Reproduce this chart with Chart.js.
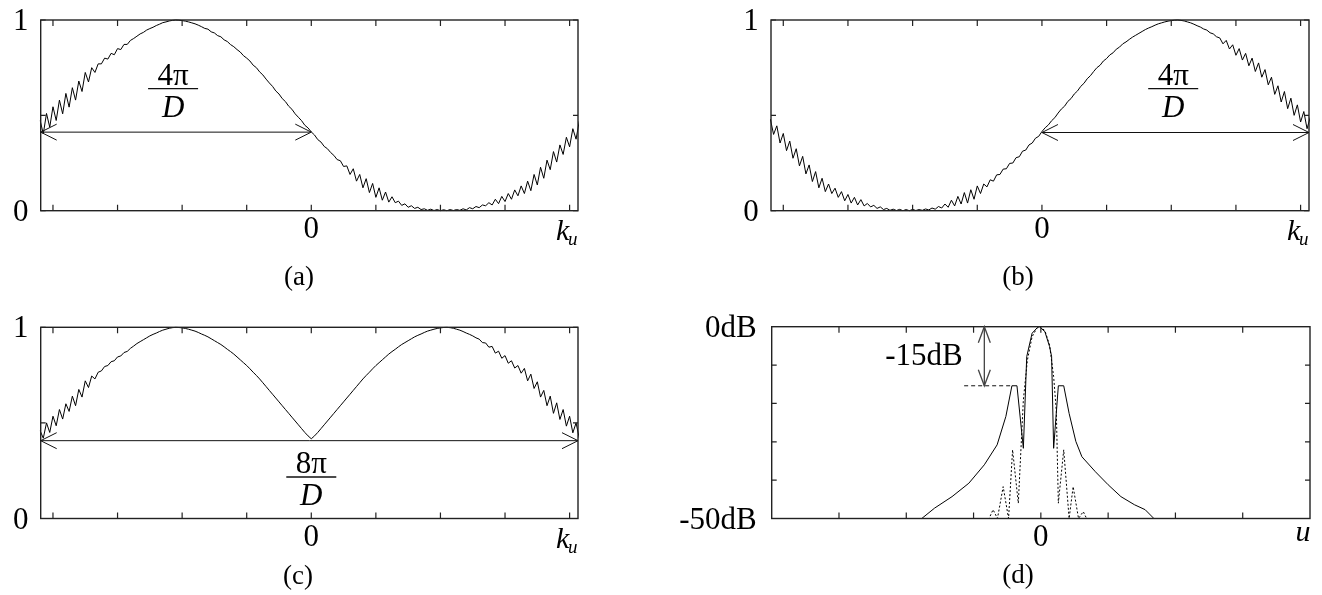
<!DOCTYPE html>
<html>
<head>
<meta charset="utf-8">
<script src="https://cdn.jsdelivr.net/npm/chart.js@4.4.0/dist/chart.umd.min.js"></script>
<style>
html, body { margin: 0; padding: 0; background: #fff; }
#wrap { position: relative; width: 1322px; height: 595px; }
#wrap canvas { position: absolute; left: 0; top: 0; }
</style>
</head>
<body>
<div id="wrap">
  <canvas id="pa" width="1322" height="595"></canvas>
  <canvas id="pb" width="1322" height="595"></canvas>
  <canvas id="pc" width="1322" height="595"></canvas>
  <canvas id="pd" width="1322" height="595"></canvas>
</div>
<script>
// ---- данные ----
// отсчёты k_u для (a), (b), (c): от -4.20 с шагом 0.05
const K_START = -4.2;
const K_STEP = 0.05;

const curveA = [
  0.475, 0.403, 0.51, 0.438, 0.545, 0.473, 0.58, 0.508, 0.615, 0.543,
  0.645, 0.58, 0.68, 0.625, 0.725, 0.675, 0.75, 0.725, 0.77, 0.77,
  0.80, 0.795, 0.825, 0.818, 0.85, 0.845, 0.872, 0.872, 0.893, 0.903,
  0.915, 0.927, 0.935, 0.947, 0.955, 0.962, 0.971, 0.978, 0.986, 0.99,
  0.995, 0.998, 1.0, 0.999, 0.997, 0.994, 0.99, 0.985, 0.98, 0.973,
  0.965, 0.956, 0.952, 0.938, 0.932, 0.918, 0.912, 0.896, 0.887, 0.871,
  0.86, 0.845, 0.832, 0.813, 0.80, 0.785, 0.763, 0.75, 0.728, 0.712,
  0.69, 0.67, 0.652, 0.628, 0.612, 0.588, 0.572, 0.548, 0.532, 0.508,
  0.49, 0.472, 0.448, 0.434, 0.413, 0.397, 0.373, 0.36, 0.337, 0.325,
  0.305, 0.29, 0.268, 0.262, 0.232, 0.235, 0.19, 0.22, 0.155, 0.19,
  0.12, 0.168, 0.095, 0.143, 0.07, 0.12, 0.055, 0.098, 0.045, 0.073,
  0.042, 0.05, 0.028, 0.036, 0.018, 0.026, 0.012, 0.018, 0.006, 0.01,
  0.002, 0.008, 0.001, 0.006, 0.0, 0.005, 0.0, 0.006, 0.001, 0.006,
  0.002, 0.01, 0.004, 0.016, 0.01, 0.022, 0.016, 0.03, 0.026, 0.042,
  0.03, 0.06, 0.037, 0.075, 0.048, 0.09, 0.06, 0.109, 0.078, 0.13,
  0.09, 0.155, 0.105, 0.19, 0.135, 0.228, 0.17, 0.265, 0.215, 0.31,
  0.255, 0.345, 0.295, 0.385, 0.335, 0.43, 0.375, 0.47
];

const curveB = [
  0.48, 0.40, 0.445, 0.355, 0.405, 0.315, 0.365, 0.275, 0.325, 0.235,
  0.285, 0.193, 0.24, 0.153, 0.205, 0.12, 0.17, 0.1, 0.14, 0.09,
  0.118, 0.07, 0.1, 0.052, 0.085, 0.04, 0.07, 0.03, 0.058, 0.025,
  0.038, 0.02, 0.028, 0.012, 0.02, 0.006, 0.012, 0.002, 0.008, 0.001,
  0.007, 0.0, 0.006, 0.0, 0.007, 0.001, 0.006, 0.002, 0.009, 0.004,
  0.014, 0.008, 0.022, 0.014, 0.035, 0.018, 0.055, 0.025, 0.075, 0.035,
  0.095, 0.04, 0.11, 0.06, 0.13, 0.09, 0.14, 0.125, 0.162, 0.155,
  0.188, 0.19, 0.218, 0.22, 0.248, 0.25, 0.278, 0.283, 0.312, 0.318,
  0.345, 0.355, 0.38, 0.39, 0.415, 0.435, 0.45, 0.472, 0.488, 0.512,
  0.533, 0.548, 0.573, 0.588, 0.612, 0.628, 0.652, 0.668, 0.692, 0.708,
  0.73, 0.75, 0.763, 0.785, 0.798, 0.817, 0.828, 0.847, 0.858, 0.875,
  0.885, 0.898, 0.91, 0.92, 0.93, 0.94, 0.95, 0.958, 0.965, 0.973,
  0.98, 0.985, 0.99, 0.994, 0.997, 0.999, 1.0, 0.998, 0.995, 0.99,
  0.985, 0.978, 0.97, 0.963, 0.953, 0.947, 0.933, 0.927, 0.912, 0.906,
  0.875, 0.893, 0.848, 0.87, 0.815, 0.85, 0.79, 0.825, 0.76, 0.8,
  0.73, 0.775, 0.7, 0.74, 0.66, 0.7, 0.61, 0.655, 0.57, 0.625,
  0.535, 0.59, 0.5, 0.555, 0.465, 0.52, 0.43, 0.49
];

const curveC = [
  0.46, 0.42, 0.50, 0.45, 0.535, 0.485, 0.57, 0.52, 0.60, 0.56,
  0.64, 0.59, 0.675, 0.635, 0.72, 0.685, 0.745, 0.73, 0.765, 0.772,
  0.795, 0.80, 0.82, 0.825, 0.845, 0.85, 0.868, 0.874, 0.89, 0.902,
  0.915, 0.925, 0.935, 0.945, 0.955, 0.963, 0.97, 0.978, 0.985, 0.99,
  0.995, 0.998, 1.0, 0.999, 0.997, 0.994, 0.99, 0.985, 0.98, 0.973,
  0.965, 0.958, 0.95, 0.94, 0.93, 0.92, 0.91, 0.898, 0.885, 0.873,
  0.86, 0.845, 0.83, 0.815, 0.80, 0.783, 0.765, 0.748, 0.73, 0.71,
  0.69, 0.67, 0.65, 0.63, 0.61, 0.59, 0.57, 0.55, 0.53, 0.51,
  0.49, 0.47, 0.45, 0.432, 0.417, 0.432, 0.45, 0.47, 0.49, 0.51,
  0.53, 0.55, 0.57, 0.59, 0.61, 0.63, 0.65, 0.67, 0.69, 0.71,
  0.73, 0.748, 0.765, 0.783, 0.80, 0.815, 0.83, 0.845, 0.86, 0.873,
  0.885, 0.898, 0.91, 0.92, 0.93, 0.94, 0.95, 0.958, 0.965, 0.973,
  0.98, 0.985, 0.99, 0.994, 0.997, 0.999, 1.0, 0.998, 0.995, 0.99,
  0.985, 0.978, 0.97, 0.963, 0.955, 0.945, 0.938, 0.92, 0.918, 0.896,
  0.90, 0.865, 0.875, 0.838, 0.852, 0.812, 0.825, 0.787, 0.80, 0.76,
  0.785, 0.72, 0.755, 0.68, 0.715, 0.635, 0.67, 0.59, 0.64, 0.55,
  0.605, 0.518, 0.57, 0.483, 0.535, 0.448, 0.50, 0.42
];

// (d): диаграмма в дБ
const dSolidU = [-4, -1.77, -1.58, -1.32, -1.07, -0.84, -0.65, -0.52, -0.43, -0.355, -0.26, -0.21, -0.13, -0.05, -0.02,
                 0.06, 0.13, 0.16, 0.19, 0.26, 0.34, 0.42, 0.52, 0.61, 0.81, 1.0, 1.19, 1.39, 1.55, 1.68, 4];
const dSolidDb = [-50, -50, -47.3, -44.3, -40.8, -36.0, -30.8, -23.4, -15.4, -15.4, -31.7, -7.8, -1.7, -0.2, 0,
                  -1.3, -5.2, -7.8, -31.7, -15.4, -15.4, -22.6, -29.9, -33.9, -37.8, -41.2, -44.3, -46.4, -47.7, -50, -50];
const dDotU = [-4, -0.77, -0.71, -0.645, -0.56, -0.48, -0.42, -0.335, -0.26, -0.2, -0.13, -0.06, -0.02,
               0.06, 0.13, 0.19, 0.23, 0.26, 0.34, 0.42, 0.48, 0.56, 0.63, 0.68, 4];
const dDotDb = [-50, -50, -47.7, -50, -41.7, -50, -32.1, -46, -19.1, -8.7, -2.6, -0.4, 0,
                -1.0, -4.8, -13, -22, -46, -32.1, -50, -41.7, -50, -48.2, -50, -50];

// деления и подписи осей
const kTicks = [-4, -3, -2, -1, 0, 1, 2, 3, 4];
const levelTicks = [0, 0.5, 1];
const levelLabels = ['0', '1'];
const levelLabelVals = [0, 1];
const uTicks = [-3, -2, -1, 0, 1, 2, 3];
const dbTicks = [-40, -30, -20, -10];
const dbLabels = ['0dB', '-50dB'];
const dbLabelVals = [0, -50];

const W = 1322, H = 595;
const SERIF = '"Liberation Serif", "Times New Roman", serif';

function toPoints(vals) {
  return vals.map((v, i) => ({ x: +(K_START + i * K_STEP).toFixed(2), y: v }));
}
function zipPoints(xs, ys) {
  return xs.map((x, i) => ({ x: x, y: ys[i] }));
}

// открытая стрелка-«галочка»
function arrowHead(ctx, x, y, dir, len, half) {
  ctx.beginPath();
  if (dir === 'l') { ctx.moveTo(x + len, y - half); ctx.lineTo(x, y); ctx.lineTo(x + len, y + half); }
  if (dir === 'r') { ctx.moveTo(x - len, y - half); ctx.lineTo(x, y); ctx.lineTo(x - len, y + half); }
  if (dir === 'u') { ctx.moveTo(x - half, y + len); ctx.lineTo(x, y); ctx.lineTo(x + half, y + len); }
  if (dir === 'd') { ctx.moveTo(x - half, y - len); ctx.lineTo(x, y); ctx.lineTo(x + half, y - len); }
  ctx.stroke();
}

function hArrow(chart, x0, x1, yv) {
  const { ctx, scales: { x, y } } = chart;
  const px0 = x.getPixelForValue(x0), px1 = x.getPixelForValue(x1), py = y.getPixelForValue(yv);
  ctx.strokeStyle = '#111';
  ctx.lineWidth = 1;
  ctx.beginPath(); ctx.moveTo(px0, py); ctx.lineTo(px1, py); ctx.stroke();
  arrowHead(ctx, px0, py, 'l', 16, 8);
  arrowHead(ctx, px1, py, 'r', 16, 8);
}

function fraction(chart, xc, barV, num) {
  const { ctx, scales: { x, y } } = chart;
  const px = x.getPixelForValue(xc), py = y.getPixelForValue(barV);
  ctx.strokeStyle = '#111';
  ctx.lineWidth = 1.3;
  ctx.beginPath(); ctx.moveTo(px - 25, py); ctx.lineTo(px + 25, py); ctx.stroke();
  ctx.fillStyle = '#000';
  ctx.textAlign = 'center';
  ctx.textBaseline = 'alphabetic';
  ctx.font = '31px ' + SERIF;
  ctx.fillText(num, px, py - 4);
  ctx.font = 'italic 31px ' + SERIF;
  ctx.fillText('D', px, py + 28);
}

function kLabel(ctx, a) {
  ctx.fillStyle = '#000';
  ctx.textAlign = 'left';
  ctx.textBaseline = 'alphabetic';
  ctx.font = 'italic 30px ' + SERIF;
  ctx.fillText('k', a.right - 22, a.bottom + 29);
  ctx.font = 'italic 19px ' + SERIF;
  ctx.fillText('u', a.right - 10, a.bottom + 34);
}

function panelPlugin(p) {
  return {
    id: 'panel_' + p.id,
    afterDatasetsDraw(chart) {
      const { ctx, chartArea: a, scales: { x, y } } = chart;
      ctx.save();
      // рамка
      ctx.strokeStyle = '#222';
      ctx.lineWidth = 1.4;
      ctx.strokeRect(a.left, a.top, a.right - a.left, a.bottom - a.top);
      // внутренние деления
      ctx.lineWidth = 1.2;
      ctx.beginPath();
      p.xTicks.forEach(v => {
        const px = x.getPixelForValue(v);
        ctx.moveTo(px, a.bottom); ctx.lineTo(px, a.bottom - 6);
        ctx.moveTo(px, a.top); ctx.lineTo(px, a.top + 6);
      });
      p.yTicks.forEach(v => {
        const py = y.getPixelForValue(v);
        ctx.moveTo(a.left, py); ctx.lineTo(a.left + 5, py);
        ctx.moveTo(a.right, py); ctx.lineTo(a.right - 5, py);
      });
      ctx.stroke();

      // подписи
      ctx.fillStyle = '#000';
      ctx.font = '31px ' + SERIF;
      ctx.textBaseline = 'middle';
      ctx.textAlign = p.yLabelAlign;
      p.yLabelVals.forEach((v, i) => {
        ctx.fillText(p.yLabels[i], a.left - p.yLabelGap, y.getPixelForValue(v) + 2);
      });
      ctx.textAlign = 'center';
      ctx.fillText('0', x.getPixelForValue(0), a.bottom + 19);

      ctx.font = '27px ' + SERIF;
      ctx.fillText(p.caption, p.capX, p.capY);

      p.extra(chart, ctx, a);
      ctx.restore();
    }
  };
}

function makePanel(id, p, datasets) {
  return new Chart(document.getElementById(id), {
    type: 'line',
    data: { datasets: datasets },
    options: {
      responsive: false,
      animation: false,
      devicePixelRatio: 1,
      events: [],
      layout: { padding: { left: p.left, top: p.top, right: W - p.right, bottom: H - p.bottom } },
      plugins: { legend: { display: false }, tooltip: { enabled: false } },
      elements: { point: { radius: 0 }, line: { tension: 0 } },
      scales: {
        x: { type: 'linear', min: p.xMin, max: p.xMax, display: false },
        y: { type: 'linear', min: p.yMin, max: p.yMax, display: false }
      }
    },
    plugins: [panelPlugin(p)]
  });
}

function lineSet(points, dash) {
  return {
    data: points,
    borderColor: '#000',
    borderWidth: 1,
    borderDash: dash || [],
    fill: false,
    clip: 1
  };
}

// (a)
makePanel('pa', {
  id: 'a', left: 40.7, right: 578, top: 20, bottom: 210.7,
  xMin: -4.19, xMax: 4.13, yMin: 0, yMax: 1,
  xTicks: kTicks, yTicks: levelTicks,
  yLabels: levelLabels, yLabelVals: levelLabelVals, yLabelAlign: 'center', yLabelGap: 20,
  caption: '(a)', capX: 299, capY: 278,
  extra(chart, ctx, a) {
    hArrow(chart, -4.19, 0, 0.412);
    fraction(chart, -2.14, 0.64, '4π');
    kLabel(ctx, a);
  }
}, [lineSet(toPoints(curveA))]);

// (b)
makePanel('pb', {
  id: 'b', left: 771, right: 1309, top: 20, bottom: 210.7,
  xMin: -4.19, xMax: 4.13, yMin: 0, yMax: 1,
  xTicks: kTicks, yTicks: levelTicks,
  yLabels: levelLabels, yLabelVals: levelLabelVals, yLabelAlign: 'center', yLabelGap: 20,
  caption: '(b)', capX: 1018, capY: 278,
  extra(chart, ctx, a) {
    hArrow(chart, 0, 4.13, 0.41);
    fraction(chart, 2.03, 0.64, '4π');
    kLabel(ctx, a);
  }
}, [lineSet(toPoints(curveB))]);

// (c)
makePanel('pc', {
  id: 'c', left: 40.7, right: 578, top: 327.3, bottom: 518.5,
  xMin: -4.19, xMax: 4.13, yMin: 0, yMax: 1,
  xTicks: kTicks, yTicks: levelTicks,
  yLabels: levelLabels, yLabelVals: levelLabelVals, yLabelAlign: 'center', yLabelGap: 20,
  caption: '(c)', capX: 298, capY: 577,
  extra(chart, ctx, a) {
    hArrow(chart, -4.19, 4.13, 0.407);
    fraction(chart, 0, 0.217, '8π');
    kLabel(ctx, a);
  }
}, [lineSet(toPoints(curveC))]);

// (d)
makePanel('pd', {
  id: 'd', left: 771.7, right: 1310, top: 326.7, bottom: 518.5,
  xMin: -4, xMax: 4, yMin: -50, yMax: 0,
  xTicks: uTicks, yTicks: dbTicks,
  yLabels: dbLabels, yLabelVals: dbLabelVals, yLabelAlign: 'right', yLabelGap: 15,
  caption: '(d)', capX: 1018, capY: 576,
  extra(chart, ctx, a) {
    const { x, y } = chart.scales;
    const ax = x.getPixelForValue(-0.84);
    const yTop = y.getPixelForValue(0), yBot = y.getPixelForValue(-15.4);
    ctx.strokeStyle = '#444';
    ctx.lineWidth = 1.3;
    ctx.beginPath(); ctx.moveTo(ax, yTop); ctx.lineTo(ax, yBot); ctx.stroke();
    arrowHead(ctx, ax, yTop, 'u', 16, 6);
    arrowHead(ctx, ax, yBot, 'd', 16, 6);
    // пунктир уровня боковых лепестков
    ctx.strokeStyle = '#111';
    ctx.lineWidth = 1;
    ctx.setLineDash([4, 3]);
    ctx.beginPath();
    ctx.moveTo(x.getPixelForValue(-1.14), yBot);
    ctx.lineTo(x.getPixelForValue(-0.44), yBot);
    ctx.stroke();
    ctx.setLineDash([]);
    ctx.fillStyle = '#000';
    ctx.font = '31px ' + SERIF;
    ctx.textAlign = 'right';
    ctx.textBaseline = 'middle';
    ctx.fillText('-15dB', x.getPixelForValue(-1.16), y.getPixelForValue(-7.8));
    ctx.font = 'italic 30px ' + SERIF;
    ctx.textAlign = 'center';
    ctx.textBaseline = 'alphabetic';
    ctx.fillText('u', a.right - 7, a.bottom + 22);
  }
}, [
  lineSet(zipPoints(dSolidU, dSolidDb)),
  lineSet(zipPoints(dDotU, dDotDb), [2, 2])
]);
</script>
</body>
</html>
